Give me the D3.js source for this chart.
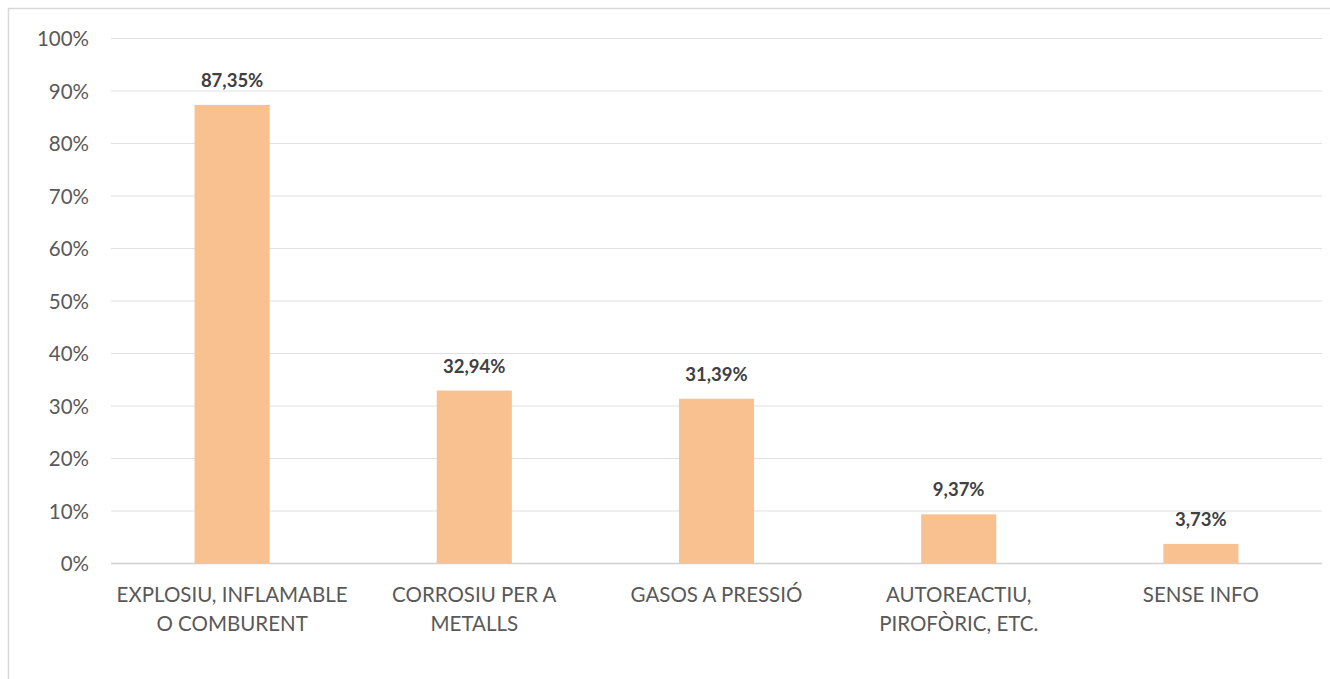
<!DOCTYPE html>
<html><head><meta charset="utf-8">
<script src="https://cdn.jsdelivr.net/npm/d3@7"></script>
<style>body{margin:0;background:#fff}svg{display:block}</style>
</head><body>
<svg id="c" width="1330" height="679"></svg>
<script>
const categories = [["EXPLOSIU, INFLAMABLE","O COMBURENT"],["CORROSIU PER A","METALLS"],["GASOS A PRESSIÓ"],["AUTOREACTIU,","PIROFÒRIC, ETC."],["SENSE INFO"]];
const values = [87.35, 32.94, 31.39, 9.37, 3.73];
const valueLabels = ["87,35%","32,94%","31,39%","9,37%","3,73%"];
const yTicks = [0,10,20,30,40,50,60,70,80,90,100];

const svg = d3.select("#c");
const font = "Lato, 'Open Sans', sans-serif";
// frame
svg.append("rect").attr("x",8.5).attr("y",8.5).attr("width",1340).attr("height",700)
  .attr("fill","none").attr("stroke","#d9d9d9").attr("stroke-width",1.5);

const L=111, R=1322, T=38.5, B=563.5;
const x = d3.scaleBand().domain(d3.range(values.length)).range([L,R]).paddingInner(0.69).paddingOuter(0.345);
const y = d3.scaleLinear().domain([0,100]).range([B,T]);

const g = svg.append("g");
g.selectAll("line.grid").data(yTicks).join("line")
  .attr("x1",L).attr("x2",R).attr("y1",d=>y(d)).attr("y2",d=>y(d))
  .attr("stroke",d=>d===0?"#d0d0d0":"#e0e0e0").attr("stroke-width",d=>d===0?1.5:1);

const yAxis = d3.axisLeft(y).tickValues(yTicks).tickFormat(d=>d+"%").tickSize(0).tickPadding(0);
const ya = svg.append("g").attr("transform","translate(89,0)").call(yAxis);
ya.select(".domain").remove();
ya.selectAll("text").attr("font-family",font).attr("font-size",20.5).attr("fill","#595959").attr("dy","0.36em");

g.selectAll("rect.bar").data(values).join("rect")
  .attr("x",(d,i)=>x(i)).attr("width",x.bandwidth())
  .attr("y",d=>y(d)).attr("height",d=>B-y(d)).attr("fill","#F9C18F");

g.selectAll("text.vl").data(values).join("text")
  .attr("x",(d,i)=>x(i)+x.bandwidth()/2).attr("y",d=>y(d)-18)
  .attr("text-anchor","middle").attr("font-family",font).attr("font-weight","bold")
  .attr("font-size",18.5).attr("fill","#404040").text((d,i)=>valueLabels[i]);

const xAxis = d3.axisBottom(x).tickSize(0).tickFormat("");
const xa = svg.append("g").attr("transform",`translate(0,${B})`).call(xAxis);
xa.select(".domain").remove();
xa.selectAll(".tick").each(function(d){
  const t = d3.select(this).append("text").attr("text-anchor","middle")
    .attr("font-family",font).attr("font-size",20.5).attr("fill","#595959");
  categories[d].forEach((line,j)=>t.append("tspan").attr("x",0).attr("y",38+j*29).text(line));
});
</script>
</body></html>
